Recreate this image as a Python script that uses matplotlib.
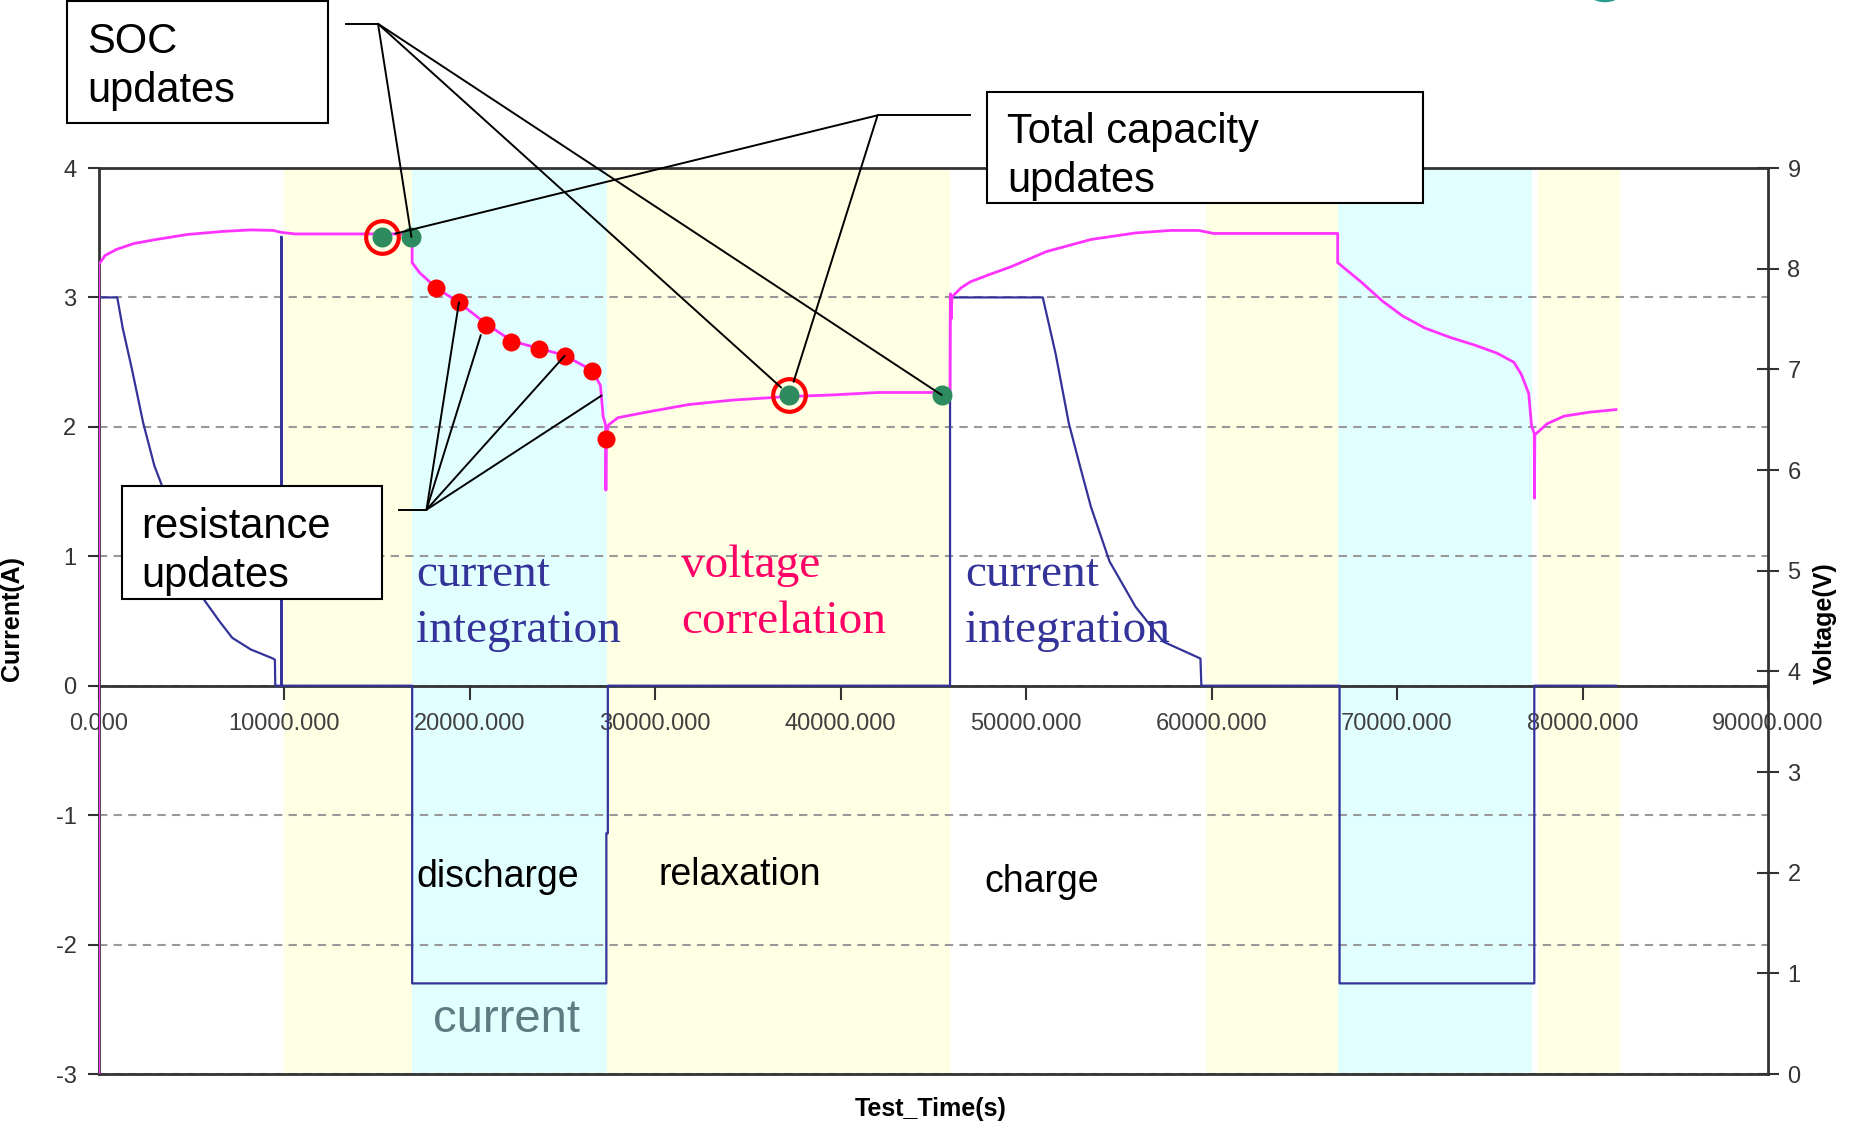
import matplotlib
matplotlib.use('Agg')
import matplotlib.pyplot as plt
from matplotlib.patches import Rectangle, Ellipse
from matplotlib.ticker import FormatStrFormatter, MultipleLocator

plt.rcParams['font.family'] = ['Liberation Sans', 'DejaVu Sans']
plt.rcParams['axes.unicode_minus'] = False

# 电流 (A)，左轴
current_t = [0, 1000, 1300, 1800, 2400, 3000, 3400, 4100, 4900, 5700, 6500, 7200,
             8200, 9400, 9500, 9520, 9850, 9850, 9870, 16900, 16900, 27370, 27370,
             27450, 27450, 45900, 45900, 50900, 51600, 52300, 52900, 53500, 54500,
             55900, 57400, 59400, 59450, 66900, 66900, 77400, 77400, 81800]
current_a = [3.0, 3.0, 2.76, 2.44, 2.03, 1.70, 1.55, 1.22, 0.92, 0.66, 0.50, 0.37,
             0.28, 0.21, 0.20, 0.0, 0.0, 3.47, 0.0, 0.0, -2.3, -2.3, -1.14,
             -1.14, 0.0, 0.0, 3.0, 3.0, 2.56, 2.03, 1.70, 1.38, 0.96,
             0.61, 0.34, 0.21, 0.0, 0.0, -2.3, -2.3, 0.0, 0.0]

# 电压 (V)，右轴
voltage_t = [0, 0, 340, 940, 1900, 3100, 4800, 6700, 8200, 9400, 9850, 10600, 16900,
             16900, 17300, 18200, 19450, 20900, 22300, 23700, 25100, 26600, 27050,
             27200, 27330, 27345, 27370, 27500, 28000, 29400, 31800, 34200, 37200,
             39500, 42000, 45900, 45920, 45960, 46000, 46500, 47000, 48000, 49200, 51100,
             53500, 55900, 57800, 59300, 60100, 66800, 66800, 68050, 69200, 70300,
             71500, 72900, 74200, 75400, 76300, 76700, 77100, 77250, 77400, 77410,
             77430, 78100, 79000, 80400, 81800]
voltage_v = [0.0, 8.04, 8.13, 8.19, 8.25, 8.29, 8.34, 8.37, 8.385, 8.38, 8.36, 8.345, 8.345,
             8.06, 7.96, 7.81, 7.66, 7.45, 7.28, 7.21, 7.14, 6.99, 6.84,
             6.53, 6.45, 5.80, 6.36, 6.45, 6.52, 6.57, 6.65, 6.695, 6.73,
             6.745, 6.77, 6.77, 7.75, 7.50, 7.72, 7.81, 7.87, 7.94, 8.02, 8.17,
             8.29, 8.355, 8.38, 8.38, 8.35, 8.35, 8.06, 7.87, 7.68, 7.53,
             7.41, 7.315, 7.24, 7.16, 7.07, 6.95, 6.76, 6.44, 6.36, 5.72,
             6.35, 6.46, 6.535, 6.575, 6.60]

# SOC 更新点 (绿)
soc_t = [15260, 16860, 37240, 45450]
soc_v = [8.315, 8.315, 6.745, 6.745]
# 总容量更新点 (红圈)
cap_t = [15260, 37240]
cap_v = [8.315, 6.745]
# 内阻更新点 (红)
res_t = [18205, 19423, 20897, 22244, 23718, 25128, 26603, 27372]
res_v = [7.808, 7.666, 7.442, 7.276, 7.205, 7.135, 6.981, 6.308]

# 背景阶段
spans = [(10000, 16900, '#ffffe3'), (16900, 27400, '#e2ffff'), (27400, 45900, '#ffffe3'),
         (59700, 66800, '#ffffe3'), (66800, 77300, '#e2ffff'), (77600, 82000, '#ffffe3')]

fig = plt.figure(figsize=(18.64, 11.23), dpi=100)
ax = fig.add_axes([0.05295, 0.04363, 0.89555, 0.80677])
ax2 = ax.twinx()

for x0, x1, c in spans:
    ax.axvspan(x0, x1, color=c, lw=0, zorder=0.5)

ax.plot(current_t, current_a, color='#333399', lw=1.6, zorder=3)
ax2.plot(voltage_t, voltage_v, color='#ff33ff', lw=2.0, zorder=3)

ax.set_xlim(0, 90000)
ax.set_ylim(-3, 4)
ax2.set_ylim(0, 9)

ax.xaxis.set_major_locator(MultipleLocator(10000))
ax.xaxis.set_major_formatter(FormatStrFormatter('%.3f'))
ax.set_yticks(range(-3, 5))
ax2.set_yticks(range(0, 10))

ax.grid(axis='y', linestyle=(0, (4, 3)), color='#999999', lw=1.5, zorder=1)

spine_c = '#333333'
ax.spines['bottom'].set_position(('data', 0))
for s in ['bottom', 'left', 'top']:
    ax.spines[s].set_color(spine_c)
    ax.spines[s].set_linewidth(2)
ax.spines['right'].set_visible(False)
for s in ['left', 'top']:
    ax2.spines[s].set_visible(False)
for s in ['bottom', 'right']:
    ax2.spines[s].set_color(spine_c)
    ax2.spines[s].set_linewidth(2)

ax.tick_params(axis='x', direction='out', length=10, width=1.5, pad=10,
               labelsize=17, colors=spine_c, labelcolor='#404040')
ax.tick_params(axis='y', direction='out', length=8, width=1.5, pad=8,
               labelsize=17, colors=spine_c, labelcolor='#333333')
ax2.tick_params(axis='y', direction='inout', length=16, width=1.5, pad=6,
                labelsize=17, colors=spine_c, labelcolor='#333333')

# 标记点
ax2.plot(soc_t, soc_v, 'o', color='#2e8b5f', ms=14.4, mec='none', zorder=5)
ax2.plot(cap_t, cap_v, 'o', mfc='none', mec='#ff0000', ms=23.5, mew=3, zorder=6)
ax2.plot(res_t, res_v, 'o', color='#ff0000', ms=13, mec='none', zorder=5)

# 阶段文字
serif = ['Liberation Serif', 'DejaVu Serif']
ax.text(17115, 0.64, 'current\nintegration', family=serif, fontsize=34,
        color='#333399', ha='left', va='center', zorder=7, linespacing=1.41)
ax.text(46730, 0.64, 'current\nintegration', family=serif, fontsize=34,
        color='#333399', ha='left', va='center', zorder=7, linespacing=1.41)
ax.text(31410, 0.71, 'voltage\ncorrelation', family=serif, fontsize=34,
        color='#ff0066', ha='left', va='center', zorder=7, linespacing=1.41)
ax.text(17115, -1.48, 'discharge', fontsize=27, color='black', ha='left', va='center')
ax.text(30190, -1.46, 'relaxation', fontsize=27, color='black', ha='left', va='center')
ax.text(47760, -1.52, 'charge', fontsize=27, color='black', ha='left', va='center')
ax.text(18010, -2.58, 'current', fontsize=34, color='#5f7a80', ha='left', va='center')

# 注释框
boxes = [
    (0.0357, 0.8909, 0.1404, 0.1081, 0.0466, 0.941, 'SOC\nupdates'),
    (0.5295, 0.8190, 0.2340, 0.0994, 0.5403, 0.861, 'Total capacity\nupdates'),
    (0.0657, 0.4663, 0.1391, 0.1007, 0.0759, 0.509, 'resistance\nupdates'),
]
for bx, by, bw, bh, tx, ty, label in boxes:
    fig.add_artist(Rectangle((bx, by), bw, bh, transform=fig.transFigure,
                             facecolor='white', edgecolor='black', lw=1.5, zorder=10))
    fig.text(tx, ty, label, fontsize=30, ha='left', va='center', zorder=11,
             linespacing=1.29)

# 引线
line_kw = dict(arrowstyle='-', color='black', lw=1.4, shrinkA=0, shrinkB=0)
soc_apex = (0.2028, 0.9788)
cap_apex = (0.4708, 0.8973)
res_apex = (0.2288, 0.5461)
fig.add_artist(plt.Line2D([0.1856, soc_apex[0]], [soc_apex[1]] * 2, color='black',
                          lw=1.4, transform=fig.transFigure))
fig.add_artist(plt.Line2D([cap_apex[0], 0.5205], [cap_apex[1]] * 2, color='black',
                          lw=1.4, transform=fig.transFigure))
fig.add_artist(plt.Line2D([0.2139, res_apex[0]], [res_apex[1]] * 2, color='black',
                          lw=1.4, transform=fig.transFigure))

for t, v, sb in [(soc_t[1], soc_v[1], 0), (soc_t[2], soc_v[2], 8), (soc_t[3], soc_v[3], 0)]:
    ax2.annotate('', xy=(t, v), xytext=soc_apex, textcoords='figure fraction',
                 annotation_clip=False,
                 arrowprops=dict(line_kw, shrinkB=sb, clip_on=False), zorder=8)
for t, v in zip(cap_t, cap_v):
    ax2.annotate('', xy=(t, v), xytext=cap_apex, textcoords='figure fraction',
                 annotation_clip=False,
                 arrowprops=dict(line_kw, shrinkB=10, clip_on=False), zorder=8)

res_leader_t = [19423, 20600, 25128, 27115]
res_leader_v = [7.666, 7.34, 7.135, 6.74]
for t, v in zip(res_leader_t, res_leader_v):
    ax2.annotate('', xy=(t, v), xytext=res_apex, textcoords='figure fraction',
                 annotation_clip=False,
                 arrowprops=dict(line_kw, clip_on=False), zorder=8)

# 轴标题
fig.text(0.0064, 0.449, 'Current(A)', rotation=90, fontsize=18, fontweight='bold',
         ha='center', va='center')
fig.text(0.979, 0.445, 'Voltage(V)', rotation=90, fontsize=18, fontweight='bold',
         ha='center', va='center')
fig.text(0.4995, 0.002, 'Test_Time(s)', fontsize=18, fontweight='bold',
         ha='center', va='bottom')

# 右上角残留的徽标
fig.add_artist(Ellipse((0.861, 1.009), 0.02, 0.022, transform=fig.transFigure,
                       facecolor='#2a9d8f', edgecolor='none'))

fig.savefig('out.png', dpi=100)
